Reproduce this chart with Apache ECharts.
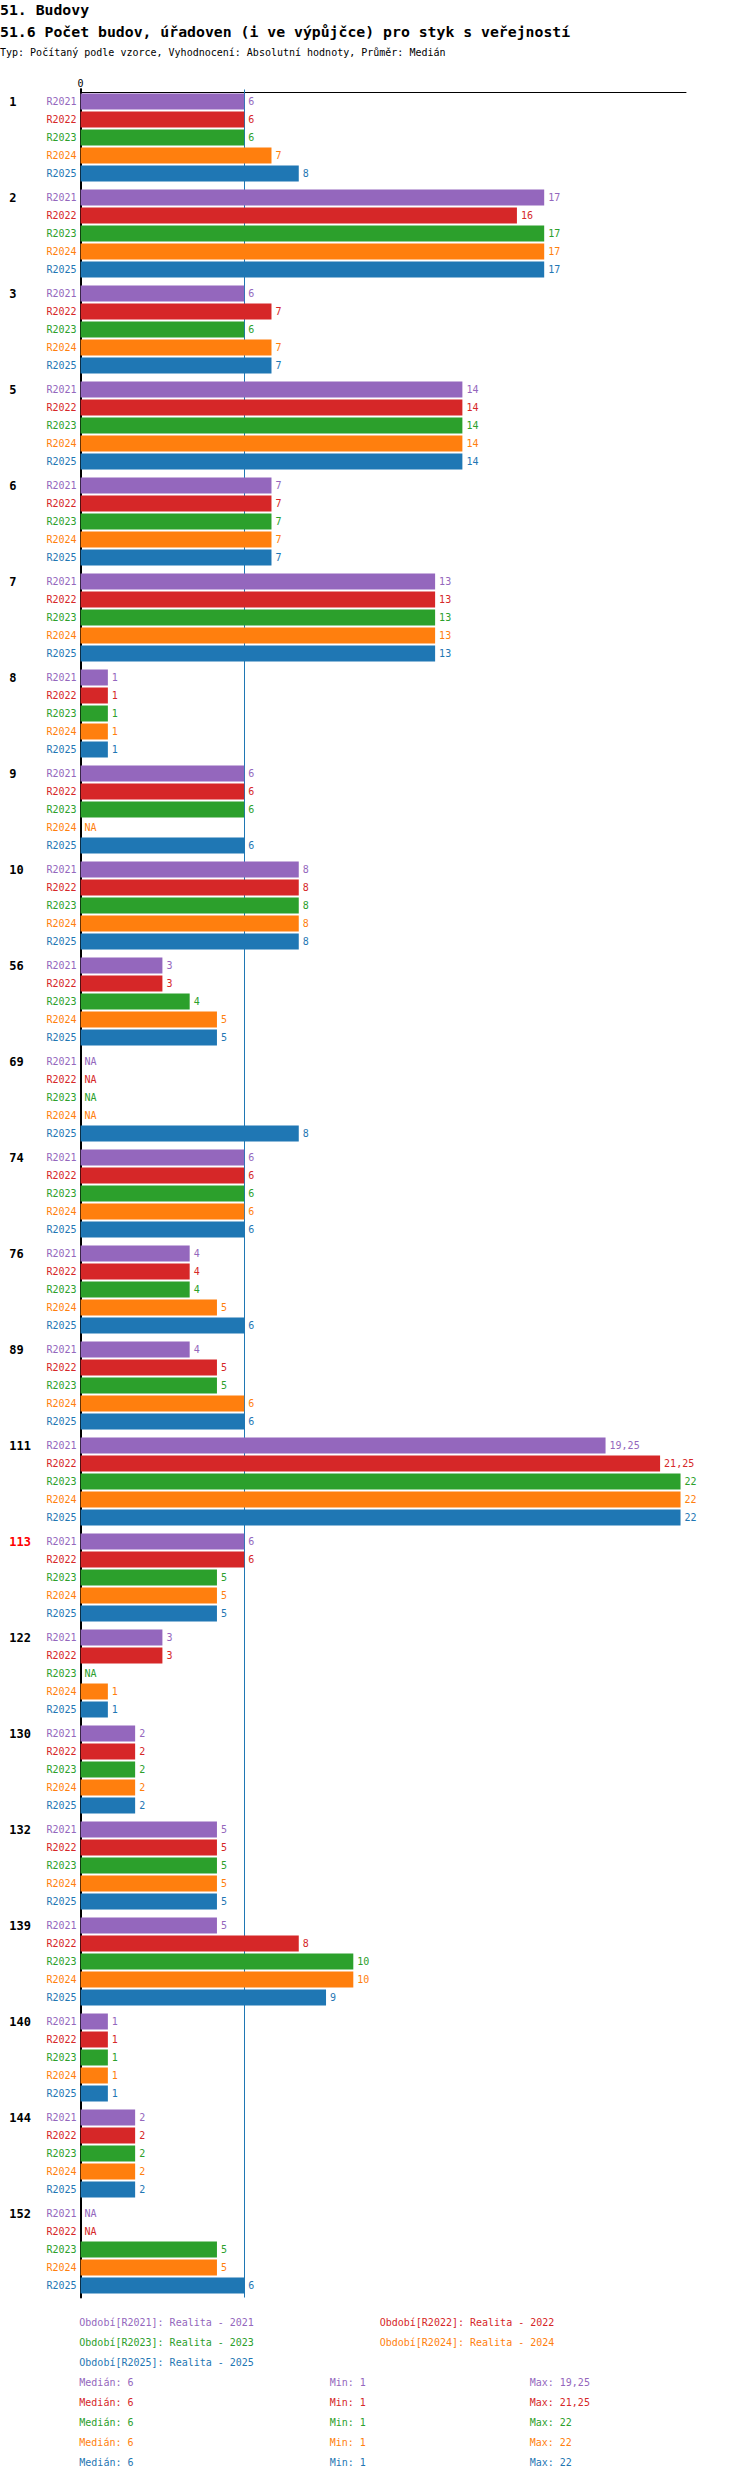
<!DOCTYPE html>
<html>
<head>
<meta charset="utf-8">
<script src="https://cdn.jsdelivr.net/npm/echarts@6/dist/echarts.min.js"></script>
<style>
  html, body { margin: 0; padding: 0; background: #fff; }
  #chart { width: 750px; height: 2480px; }
</style>
</head>
<body>
<div id="chart"></div>
<script>
// ---- data ----
const groups = ['1','2','3','5','6','7','8','9','10','56','69','74','76','89','111','113','122','130','132','139','140','144','152'];
const highlightedGroups = ['113'];
const seriesNames = ['R2021','R2022','R2023','R2024','R2025'];
const seriesTitles = ['Realita - 2021','Realita - 2022','Realita - 2023','Realita - 2024','Realita - 2025'];
const colors = ['#9467bd','#d62728','#2ca02c','#ff7f0e','#1f77b4'];

const r2021 = [6,17,6,14,7,13,1,6,8,3,null,6,4,4,19.25,6,3,2,5,5,1,2,null];
const r2022 = [6,16,7,14,7,13,1,6,8,3,null,6,4,5,21.25,6,3,2,5,8,1,2,null];
const r2023 = [6,17,6,14,7,13,1,6,8,4,null,6,4,5,22,5,null,2,5,10,1,2,5];
const r2024 = [7,17,7,14,7,13,1,null,8,5,null,6,5,6,22,5,1,2,5,10,1,2,5];
const r2025 = [8,17,7,14,7,13,1,6,8,5,8,6,6,6,22,5,1,2,5,9,1,2,6];
const seriesValues = [r2021, r2022, r2023, r2024, r2025];

const medians = [6,6,6,6,6];
const mins = [1,1,1,1,1];
const maxs = [19.25,21.25,22,22,22];
const xTickValues = [0];

const titleLine1 = '51. Budovy';
const titleLine2 = '51.6 Počet budov, úřadoven (i ve výpůjčce) pro styk s veřejností';
const titleLine3 = 'Typ: Počítaný podle vzorce, Vyhodnocení: Absolutní hodnoty, Průměr: Medián';

// ---- rendering ----
const FONT = "'DejaVu Sans Mono', 'Liberation Mono', monospace";
const fmt = v => String(v).replace('.', ',');

const chart = echarts.init(document.getElementById('chart'), null, { renderer: 'svg' });

const series = [];
seriesNames.forEach((name, i) => {
  const vals = seriesValues[i];
  series.push({
    type: 'bar',
    name: name,
    xAxisIndex: 0,
    yAxisIndex: 0,
    silent: true,
    barWidth: 16,
    barGap: '12.5%',
    data: vals.map(v => (v == null ? 0 : v)),
    itemStyle: { color: colors[i] },
    label: {
      show: true,
      position: 'right',
      distance: 4,
      color: colors[i],
      fontFamily: FONT,
      fontSize: 10,
      formatter: p => (vals[p.dataIndex] == null ? 'NA' : fmt(vals[p.dataIndex]))
    }
  });
});
// series-name labels at the left of each bar (on a twin hidden axis -> identical layout)
seriesNames.forEach((name, i) => {
  const vals = seriesValues[i];
  series.push({
    type: 'bar',
    name: name + ' ',
    xAxisIndex: 0,
    yAxisIndex: 1,
    silent: true,
    barWidth: 16,
    barGap: '12.5%',
    data: vals.map(v => (v == null ? 0 : v)),
    itemStyle: { color: 'rgba(0,0,0,0)' },
    label: {
      show: true,
      position: 'left',
      distance: 4,
      color: colors[i],
      fontFamily: FONT,
      fontSize: 10,
      formatter: name
    }
  });
});
// median line
series.push({
  type: 'line',
  xAxisIndex: 0,
  yAxisIndex: 0,
  data: [],
  silent: true,
  markLine: {
    z: 1,
    silent: true,
    symbol: ['none', 'none'],
    label: { show: false },
    lineStyle: { color: colors[4], width: 1, type: 'solid' },
    data: [{ xAxis: medians[4] }]
  }
});

// texts
const graphics = [];
function txt(x, y, text, color, size, bold) {
  graphics.push({
    type: 'text',
    x: x, y: y,
    silent: true,
    style: {
      text: text,
      fill: color,
      font: (bold ? 'bold ' : '') + size + 'px ' + FONT,
      textAlign: 'left', align: 'left',
      textVerticalAlign: 'middle', verticalAlign: 'middle'
    }
  });
}
txt(0, 9.5, titleLine1, '#000', 14.8, true);
txt(0, 31, titleLine2, '#000', 14.8, true);
txt(0, 52, titleLine3, '#000', 10, false);

const legendX = [79.3, 379.7];
seriesNames.forEach((name, i) => {
  const col = i % 2, row = Math.floor(i / 2);
  txt(legendX[col], 2322.3 + row * 20, 'Období[' + name + ']: ' + seriesTitles[i], colors[i], 10, false);
});
seriesNames.forEach((name, i) => {
  const y = 2382.3 + i * 20;
  txt(79.3, y, 'Medián: ' + fmt(medians[i]), colors[i], 10, false);
  txt(329.7, y, 'Min: ' + fmt(mins[i]), colors[i], 10, false);
  txt(529.7, y, 'Max: ' + fmt(maxs[i]), colors[i], 10, false);
});

const option = {
  animation: false,
  backgroundColor: '#fff',
  textStyle: { fontFamily: FONT },
  grid: {
    left: 80.6, top: 89.5, width: 605.4, height: 2208,
    containLabel: false, outerBoundsMode: 'none'
  },
  xAxis: {
    type: 'value',
    position: 'top',
    offset: -3,
    min: 0,
    max: 22.2,
    axisLine: { show: true, lineStyle: { color: '#000', width: 1 } },
    axisTick: { show: true, length: 4, customValues: xTickValues, lineStyle: { color: '#000', width: 2 } },
    axisLabel: { show: true, customValues: xTickValues, margin: 4, fontSize: 10, color: '#000', fontFamily: FONT },
    splitLine: { show: false }
  },
  yAxis: [
    {
      type: 'category',
      data: groups,
      inverse: true,
      axisLine: { show: true, lineStyle: { color: '#000', width: 2 } },
      axisTick: { show: false },
      axisLabel: {
        show: true,
        align: 'left',
        margin: 71.3,
        interval: 0,
        fontFamily: FONT,
        formatter: v => (highlightedGroups.indexOf(v) >= 0 ? '{r|' : '{g|') + v + '}\n{s| }',
        rich: {
          g: { fontWeight: 'bold', fontSize: 12, lineHeight: 14, color: '#000', fontFamily: FONT, align: 'left' },
          r: { fontWeight: 'bold', fontSize: 12, lineHeight: 14, color: '#ff0000', fontFamily: FONT, align: 'left' },
          s: { fontSize: 12, lineHeight: 72, height: 72, fontFamily: FONT }
        }
      },
      splitLine: { show: false }
    },
    {
      type: 'category',
      data: groups,
      inverse: true,
      show: false
    }
  ],
  graphic: graphics,
  series: series
};
chart.setOption(option);
</script>
</body>
</html>
